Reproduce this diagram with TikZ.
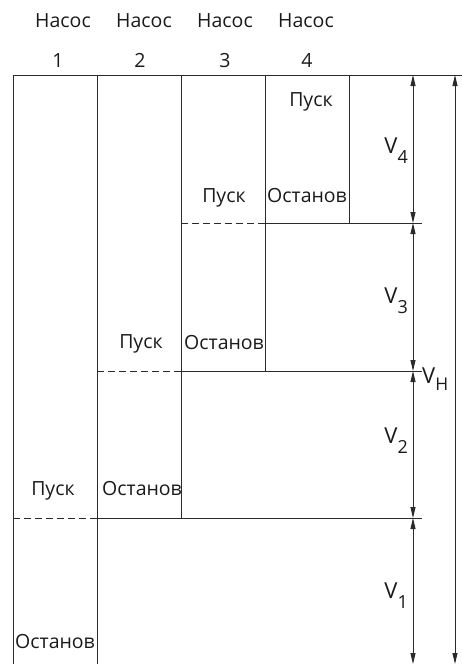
\documentclass[tikz,border=0pt]{standalone}
\usepackage{fontspec}
\setmainfont{Open Sans}
\usetikzlibrary{arrows.meta}
\definecolor{ink}{HTML}{2A2A2A}
\definecolor{txt}{HTML}{1A1A1A}
\tikzset{
  rule/.style={draw=ink, line width=0.9pt},
  dashrule/.style={draw=ink, line width=0.9pt, dash pattern=on 7pt off 4pt},
  dim/.style={draw=ink, line width=0.9pt, {Triangle[length=11pt,width=5pt]}-{Triangle[length=11pt,width=5pt]}},
  lbl/.style={anchor=base, inner sep=0pt, text=txt, font=\fontsize{19.5}{22}\selectfont},
  vlbl/.style={inner sep=0pt, text=txt, font=\fontsize{22}{24}\selectfont},
}
\newcommand{\vsub}[1]{V\raisebox{-10pt}{\fontsize{18}{18}\selectfont #1}}
\begin{document}
\begin{tikzpicture}[x=1pt,y=-1pt]
\useasboundingbox (0,0) rectangle (462,664);
% coordinates
\coordinate (t0) at (13,75);  \coordinate (t1) at (97,75);
\coordinate (t2) at (181,75); \coordinate (t3) at (265,75);
\coordinate (t4) at (349,75); \coordinate (tr) at (462,75);
\coordinate (b0) at (13,664); \coordinate (b1) at (97,664);
\coordinate (c2) at (181,518); \coordinate (c3) at (265,371); \coordinate (c4) at (349,223);
\coordinate (h4a) at (181,223); \coordinate (h4b) at (265,223); \coordinate (h4c) at (422,223);
\coordinate (h3a) at (97,371);  \coordinate (h3b) at (181,371); \coordinate (h3c) at (422,371);
\coordinate (h2a) at (13,518);  \coordinate (h2b) at (97,518);  \coordinate (h2c) at (422,518);
\coordinate (d0) at (413,75); \coordinate (d1) at (413,223); \coordinate (d2) at (413,371);
\coordinate (d3) at (413,518); \coordinate (d4) at (413,664);
\coordinate (o0) at (455,75); \coordinate (o1) at (455,664);
% grid
\draw[rule] (t0) -- (tr);
\draw[rule] (t0) -- (b0);
\draw[rule] (t1) -- (b1);
\draw[rule] (t2) -- (c2);
\draw[rule] (t3) -- (c3);
\draw[rule] (t4) -- (c4);
\draw[dashrule] (h4a) -- (h4b); \draw[rule] (h4b) -- (h4c);
\draw[dashrule] (h3a) -- (h3b); \draw[rule] (h3b) -- (h3c);
\draw[dashrule] (h2a) -- (h2b); \draw[rule] (h2b) -- (h2c);
% dimensions
\draw[dim] (d0) -- (d1);
\draw[dim] (d1) -- (d2);
\draw[dim] (d2) -- (d3);
\draw[dim] (d3) -- (d4);
\draw[dim] (o0) -- (o1);
% headers
\node[lbl] (n1) at (63,27) {Насос};
\node[lbl] (n2) at (144,27) {Насос};
\node[lbl] (n3) at (225,27) {Насос};
\node[lbl] (n4) at (306,27) {Насос};
\node[lbl] (k1) at (58,67) {1};
\node[lbl] (k2) at (140,67) {2};
\node[lbl] (k3) at (225,67) {3};
\node[lbl] (k4) at (307,67) {4};
% start / stop
\node[lbl] (p1) at (53,495) {Пуск};
\node[lbl] (p2) at (141,348) {Пуск};
\node[lbl] (p3) at (224,202) {Пуск};
\node[lbl] (p4) at (311,106) {Пуск};
\node[lbl] (s1) at (55,648) {Останов};
\node[lbl] (s2) at (142,495) {Останов};
\node[lbl] (s3) at (224,349) {Останов};
\node[lbl] (s4) at (307,202) {Останов};
% volumes
\node[vlbl, anchor=base east] (v4) at (408,153) {\vsub{4}};
\node[vlbl, anchor=base east] (v3) at (408,303) {\vsub{3}};
\node[vlbl, anchor=base east] (v2) at (408,443) {\vsub{2}};
\node[vlbl, anchor=base east] (v1) at (408,598) {\vsub{1}};
\node[vlbl, anchor=base west] (vh) at (422,383) {V\raisebox{-7pt}{\fontsize{17.5}{17}\selectfont H}};
\end{tikzpicture}
\end{document}
